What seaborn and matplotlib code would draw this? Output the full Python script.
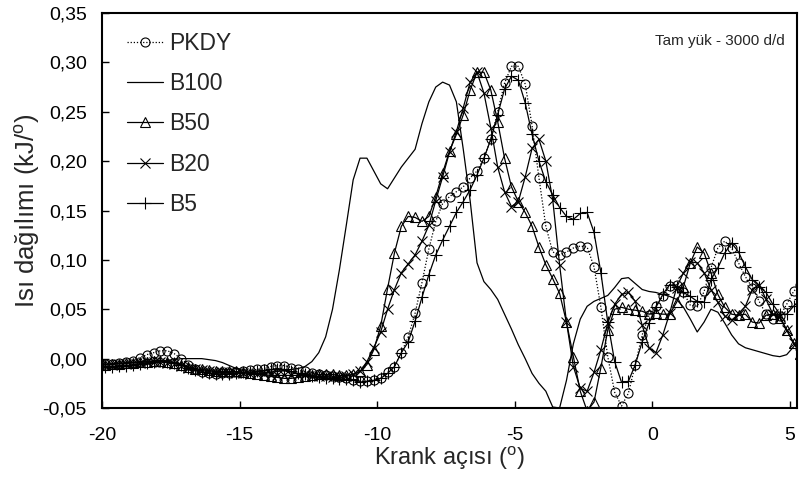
import numpy as np
import pandas as pd
import matplotlib
matplotlib.use("Agg")
import matplotlib.pyplot as plt
import seaborn as sns
from matplotlib.ticker import FuncFormatter

# crank angle samples (deg)
angle = [-20.125, -19.875, -19.625, -19.375, -19.125, -18.875, -18.625, -18.375, -18.125, -17.875,
         -17.625, -17.375, -17.125, -16.875, -16.625, -16.375, -16.125, -15.875, -15.625, -15.375,
         -15.125, -14.875, -14.625, -14.375, -14.125, -13.875, -13.625, -13.375, -13.125, -12.875,
         -12.625, -12.375, -12.125, -11.875, -11.625, -11.375, -11.125,
         -10.875, -10.625, -10.375, -10.125, -9.875, -9.625, -9.375, -9.125, -8.875, -8.625,
         -8.375, -8.125, -7.875, -7.625, -7.375, -7.125, -6.875, -6.625, -6.375, -6.125,
         -5.875, -5.625, -5.375, -5.125, -4.875, -4.625, -4.375, -4.125, -3.875, -3.625,
         -3.375, -3.125, -2.875, -2.625, -2.375, -2.125, -1.875, -1.625, -1.375, -1.125,
         -0.875, -0.625, -0.375, -0.125,
         0.125, 0.375, 0.625, 0.875, 1.125, 1.375, 1.625, 1.875, 2.125, 2.375,
         2.625, 2.875, 3.125, 3.375, 3.625, 3.875, 4.125, 4.375, 4.625, 4.875,
         5.125, 5.375]

pkdy = [-0.004, -0.005, -0.005, -0.004, -0.003, -0.002, 0.001, 0.004, 0.006, 0.008,
        0.008, 0.005, 0.000, -0.006, -0.011, -0.014, -0.015, -0.016, -0.015, -0.015,
        -0.014, -0.013, -0.012, -0.011, -0.010, -0.008, -0.007, -0.007, -0.009, -0.011,
        -0.013, -0.015, -0.016, -0.017, -0.018, -0.019, -0.020,
        -0.022, -0.023, -0.023, -0.022, -0.020, -0.014, -0.008, 0.006, 0.022, 0.046,
        0.077, 0.111, 0.139, 0.157, 0.164, 0.169, 0.174, 0.183, 0.190, 0.203,
        0.222, 0.250, 0.279, 0.296, 0.296, 0.278, 0.236, 0.183, 0.134, 0.108,
        0.105, 0.108, 0.112, 0.114, 0.113, 0.093, 0.052, 0.002, -0.034, -0.048,
        -0.035, -0.006, 0.024, 0.044,
        0.053, 0.063, 0.074, 0.075, 0.067, 0.054, 0.053, 0.068, 0.092, 0.112,
        0.119, 0.112, 0.097, 0.083, 0.072, 0.058, 0.045, 0.040, 0.043, 0.055,
        0.068, 0.075]

b100 = [-0.007, -0.008, -0.009, -0.010, -0.010, -0.009, -0.008, -0.006, -0.004, -0.003,
        -0.002, -0.001, 0.000, 0.000, 0.000, 0.000, -0.001, -0.002, -0.004, -0.007,
        -0.010, -0.012, -0.014, -0.015, -0.015, -0.014, -0.013, -0.012, -0.011, -0.010,
        -0.008, -0.003, 0.006, 0.022, 0.050, 0.090, 0.135,
        0.181, 0.203, 0.203, 0.190, 0.177, 0.172, 0.183, 0.194, 0.203, 0.212,
        0.238, 0.260, 0.275, 0.280, 0.277, 0.260, 0.212, 0.160, 0.097, 0.078,
        0.070, 0.060, 0.045, 0.030, 0.014, 0.000, -0.015, -0.025, -0.033, -0.049,
        -0.050, -0.022, 0.015, 0.040, 0.053, 0.058, 0.061, 0.064, 0.072, 0.081,
        0.082, 0.076, 0.070, 0.068,
        0.067, 0.065, 0.063, 0.060, 0.052, 0.040, 0.027, 0.037, 0.050, 0.047,
        0.036, 0.024, 0.015, 0.011, 0.009, 0.007, 0.005, 0.003, 0.002, 0.004,
        0.012, 0.022]

b50 = [-0.006, -0.006, -0.005, -0.005, -0.004, -0.004, -0.003, -0.003, -0.002, -0.002,
       -0.003, -0.004, -0.006, -0.008, -0.010, -0.011, -0.012, -0.013, -0.013, -0.013,
       -0.013, -0.014, -0.015, -0.016, -0.017, -0.018, -0.019, -0.020, -0.020, -0.019,
       -0.018, -0.017, -0.016, -0.016, -0.016, -0.017, -0.017,
       -0.016, -0.013, -0.006, 0.009, 0.033, 0.071, 0.107, 0.134, 0.144, 0.143,
       0.139, 0.144, 0.164, 0.188, 0.210, 0.227, 0.247, 0.272, 0.290, 0.290,
       0.272, 0.240, 0.203, 0.174, 0.159, 0.148, 0.134, 0.113, 0.095, 0.081,
       0.066, 0.037, 0.002, -0.033, -0.053, -0.044, -0.009, 0.029, 0.050, 0.052,
       0.050, 0.049, 0.048, 0.045,
       0.046, 0.045, 0.045, 0.057, 0.073, 0.097, 0.113, 0.107, 0.087, 0.065,
       0.052, 0.045, 0.044, 0.045, 0.037, 0.036, 0.044, 0.045, 0.041, 0.029,
       0.016, 0.005]

b20 = [-0.006, -0.006, -0.006, -0.005, -0.005, -0.004, -0.004, -0.003, -0.003, -0.003,
       -0.004, -0.005, -0.007, -0.009, -0.011, -0.012, -0.013, -0.014, -0.014, -0.014,
       -0.015, -0.015, -0.016, -0.016, -0.016, -0.017, -0.017, -0.017, -0.017, -0.017,
       -0.017, -0.018, -0.018, -0.018, -0.019, -0.019, -0.018,
       -0.016, -0.013, -0.003, 0.011, 0.027, 0.050, 0.070, 0.087, 0.096, 0.105,
       0.119, 0.135, 0.160, 0.184, 0.209, 0.230, 0.254, 0.280, 0.290, 0.269,
       0.234, 0.194, 0.169, 0.154, 0.159, 0.184, 0.213, 0.222, 0.200, 0.161,
       0.095, 0.037, -0.008, -0.030, -0.033, -0.014, 0.009, 0.036, 0.055, 0.065,
       0.067, 0.058, 0.034, 0.011,
       0.006, 0.024, 0.046, 0.072, 0.087, 0.098, 0.097, 0.087, 0.070, 0.057,
       0.043, 0.039, 0.045, 0.053, 0.070, 0.075, 0.060, 0.045, 0.043, 0.029,
       0.016, 0.005]

b5 = [-0.008, -0.008, -0.008, -0.007, -0.007, -0.006, -0.005, -0.004, -0.003, -0.002,
      -0.003, -0.004, -0.006, -0.009, -0.012, -0.014, -0.015, -0.016, -0.016, -0.016,
      -0.015, -0.014, -0.014, -0.013, -0.012, -0.011, -0.010, -0.011, -0.013, -0.015,
      -0.016, -0.018, -0.019, -0.020, -0.020, -0.021, -0.021,
      -0.022, -0.024, -0.023, -0.022, -0.020, -0.015, -0.008, 0.006, 0.017, 0.038,
      0.062, 0.085, 0.105, 0.120, 0.134, 0.148, 0.159, 0.171, 0.186, 0.203,
      0.222, 0.247, 0.273, 0.286, 0.282, 0.259, 0.227, 0.200, 0.179, 0.166,
      0.153, 0.144, 0.141, 0.147, 0.148, 0.128, 0.087, 0.037, -0.003, -0.024,
      -0.023, -0.006, 0.017, 0.036,
      0.052, 0.065, 0.075, 0.073, 0.067, 0.063, 0.058, 0.057, 0.080, 0.092,
      0.107, 0.117, 0.108, 0.093, 0.080, 0.073, 0.067, 0.055, 0.045, 0.045,
      0.053, 0.060]

x_ticks = [-20, -15, -10, -5, 0, 5]
y_ticks = [-0.05, 0.00, 0.05, 0.10, 0.15, 0.20, 0.25, 0.30, 0.35]

sns.set_style("white")
plt.rcParams['font.family'] = ['Liberation Sans', 'DejaVu Sans']
plt.rcParams['mathtext.fontset'] = 'custom'
plt.rcParams['mathtext.rm'] = 'Liberation Sans'
plt.rcParams['mathtext.it'] = 'Liberation Sans'
plt.rcParams['axes.unicode_minus'] = False

fig = plt.figure(figsize=(7.99, 4.79), dpi=100)
ax = fig.add_axes([102/799, 1 - 408/479, 695/799, 395/479])

series = [
    ("PKDY", pkdy, dict(linestyle=(0, (1, 1.5)), marker='o', markersize=6.5)),
    ("B100", b100, dict(linestyle='-', marker=None)),
    ("B50", b50, dict(linestyle='-', marker='^', markersize=6.5)),
    ("B20", b20, dict(linestyle='-', marker='x', markersize=7)),
    ("B5", b5, dict(linestyle='-', marker='+', markersize=9)),
]

for name, vals, st in series:
    df = pd.DataFrame({"angle": angle, "val": vals})
    kw = dict(color='black', linewidth=0.9)
    kw.update(st)
    if kw.get('marker'):
        kw.update(markerfacecolor='none', markeredgecolor='black', markeredgewidth=0.8)
    sns.lineplot(data=df, x="angle", y="val", ax=ax, label=name, estimator=None,
                 sort=False, **kw)

ax.set_xlim(-20, 5.25)
ax.set_ylim(-0.05, 0.35)
ax.set_xticks(x_ticks)
ax.set_yticks(y_ticks)
ax.yaxis.set_major_formatter(FuncFormatter(lambda v, p: f"{v:.2f}".replace('.', ',')))
ax.xaxis.set_major_formatter(FuncFormatter(lambda v, p: f"{v:g}"))
ax.tick_params(direction='in', length=5, width=1, labelsize=14, colors='black',
               bottom=True, left=True, top=False, right=False)
ax.tick_params(axis='x', pad=14)
ax.tick_params(axis='y', pad=11)
for sp in ax.spines.values():
    sp.set_visible(True)
    sp.set_color('black')
    sp.set_linewidth(1.5)

ax.set_xlabel(r"Krank açısı ($^{\mathrm{o}}$)", fontsize=17, labelpad=0)
ax.set_ylabel(r"Isı dağılımı (kJ/$^{\mathrm{o}}$)", fontsize=18.5, labelpad=0)

ax.text(0.982, 0.93, "Tam yük - 3000 d/d", transform=ax.transAxes, ha='right',
        va='center', fontsize=11)

leg = ax.legend(loc='upper left', bbox_to_anchor=(0.036, 0.952), frameon=False,
                fontsize=16.5, handlelength=1.55, handletextpad=0.3, labelspacing=0.75,
                borderaxespad=0, borderpad=0, numpoints=1)

fig.savefig("out.png", dpi=100)
